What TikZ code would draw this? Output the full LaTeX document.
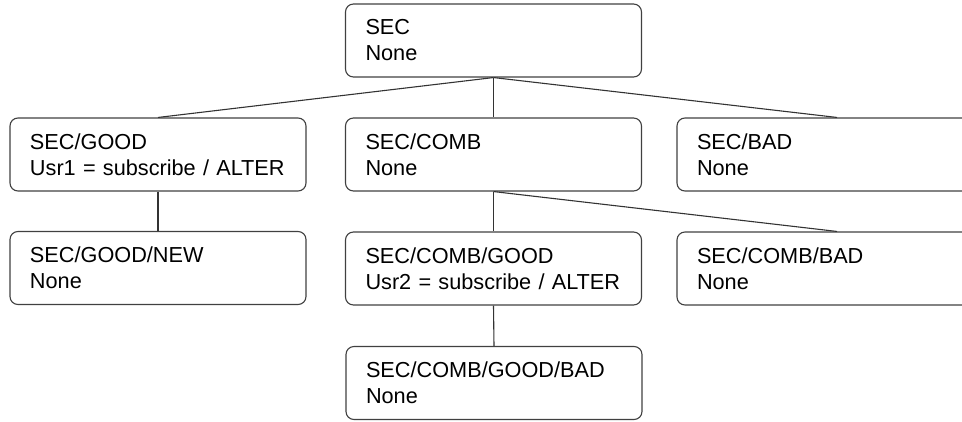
\documentclass[tikz,border=0pt]{standalone}
\usepackage{fontspec}
\setmainfont{Liberation Sans}

\tikzset{
    dirbox/.style={draw=black!75, line width=1.1pt, rounded corners=8pt,
        text width=256pt, inner xsep=20pt, inner ysep=0pt,
        minimum height=73pt, align=left,
        font=\fontsize{21.7}{26}\selectfont},
    widebox/.style={dirbox, text width=280pt},
    link/.style={draw=black!80, line width=1.1pt}
}

\begin{document}
\begin{tikzpicture}[x=1pt, y=-1pt]
    \useasboundingbox (0,0) rectangle (962,421);

    \node[dirbox] (sec) at (493.5,40.5) {SEC\\None};

    \node[dirbox] (good) at (158,154.5) {SEC/GOOD\\Usr1 = subscribe / ALTER};
    \node[dirbox] (comb) at (493.5,154.5) {SEC/COMB\\None};
    \node[widebox] (bad) at (837,154.5) {SEC/BAD\\None};

    \node[dirbox] (goodnew) at (158,268) {SEC/GOOD/NEW\\None};
    \node[dirbox] (combgood) at (493.5,268.5) {SEC/COMB/GOOD\\Usr2 = subscribe / ALTER};
    \node[widebox] (combbad) at (837,268.5) {SEC/COMB/BAD\\None};

    \node[dirbox] (combgoodbad) at (494,383) {SEC/COMB/GOOD/BAD\\None};

    \foreach \from/\to in {sec/good, sec/comb, sec/bad, good/goodnew,
        comb/combgood, comb/combbad, combgood/combgoodbad}{
        \draw[link] (\from.south) -- (\to.north);
    }
\end{tikzpicture}
\end{document}
